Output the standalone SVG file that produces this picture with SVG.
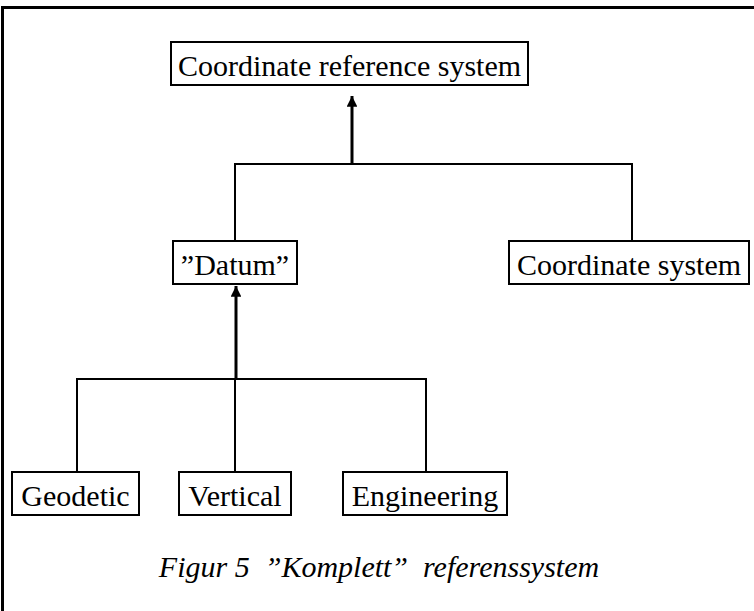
<svg xmlns="http://www.w3.org/2000/svg" width="754" height="611" viewBox="0 0 754 611">
<style>
.box{fill:#fff;stroke:#000;stroke-width:2}
.t{font-size:30px;fill:#000;text-anchor:middle}
.cap{font-style:italic}
.ln{fill:none;stroke:#000;stroke-width:2}
.ar{fill:none;stroke:#000;stroke-width:3}
</style>
<defs>
<marker id="ah" viewBox="0 0 10 10" refX="10" refY="5" markerWidth="4" markerHeight="3.6" markerUnits="strokeWidth" orient="auto">
<path d="M0,0 L10,5 L0,10 Z" fill="#000"/>
</marker>
</defs>
<rect width="754" height="611" fill="#fff"/>
<path d="M2.5,611 V7.5 H754" fill="none" stroke="#000" stroke-width="3"/>
<g id="connectors">
<path class="ar" d="M352,164 V96" marker-end="url(#ah)"/>
<path class="ln" d="M235,241 V164 H632 V241"/>
<path class="ar" d="M236,379 V286" marker-end="url(#ah)"/>
<path class="ln" d="M77,472 V379 H426 V472"/>
<path class="ln" d="M235,379 V472"/>
</g>
<g font-family="Liberation Serif, serif">
<g id="crs">
<rect class="box" x="171" y="42" width="357" height="43"/>
<text class="t" x="349.5" y="76">Coordinate reference system</text>
</g>
<g id="datum">
<rect class="box" x="173" y="241" width="124" height="43"/>
<text class="t" x="235" y="275">”Datum”</text>
</g>
<g id="cs">
<rect class="box" x="509" y="241" width="240" height="43"/>
<text class="t" x="629" y="275">Coordinate system</text>
</g>
<g id="geodetic">
<rect class="box" x="12" y="472" width="127" height="43"/>
<text class="t" x="75.5" y="506">Geodetic</text>
</g>
<g id="vertical">
<rect class="box" x="179" y="472" width="112" height="43"/>
<text class="t" x="235" y="506">Vertical</text>
</g>
<g id="engineering">
<rect class="box" x="343" y="472" width="164" height="43"/>
<text class="t" x="425" y="506">Engineering</text>
</g>
<text class="t cap" x="379" y="577" xml:space="preserve">Figur 5  ”Komplett”  referenssystem</text>
</g>
</svg>
